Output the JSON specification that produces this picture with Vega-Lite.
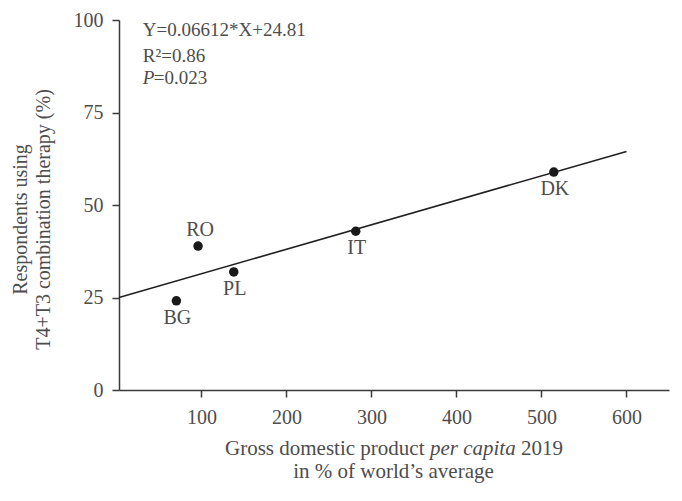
{
  "$schema": "https://vega.github.io/schema/vega-lite/v6.json",
  "width": 550,
  "height": 370,
  "autosize": {"type": "none"},
  "padding": {"left": 119, "top": 20, "right": 13, "bottom": 111},
  "background": "white",
  "config": {
    "view": {"stroke": null},
    "font": "Liberation Serif",
    "axis": {
      "labelFont": "Liberation Serif",
      "titleFont": "Liberation Serif",
      "labelFontSize": 20,
      "titleFontSize": 20,
      "labelColor": "#4d4d4d",
      "titleColor": "#4d4d4d",
      "domainColor": "#3a3a3a",
      "tickColor": "#3a3a3a",
      "domainWidth": 1.5,
      "tickWidth": 1.5,
      "grid": false,
      "titleFontWeight": "normal"
    }
  },
  "datasets": {
    "countries": [
      {"country": "BG", "gdp": 70.5, "t4t3": 24.1},
      {"country": "RO", "gdp": 96, "t4t3": 38.9},
      {"country": "PL", "gdp": 138, "t4t3": 31.9},
      {"country": "IT", "gdp": 281.5, "t4t3": 42.9},
      {"country": "DK", "gdp": 514.5, "t4t3": 58.9}
    ],
    "fit": [
      {"gdp": 3, "t4t3": 25.01},
      {"gdp": 600, "t4t3": 64.48}
    ],
    "notes": [
      {"label": "Y=0.06612*X+24.81", "gx": 31, "gy": 97.2, "style": "normal"},
      {"label": "R²=0.86", "gx": 31, "gy": 90.4, "style": "normal"},
      {"label": "P", "gx": 31, "gy": 84.2, "style": "italic"},
      {"label": "=0.023", "gx": 44, "gy": 84.2, "style": "normal"}
    ],
    "xtitle": [
      {"label": "Gross domestic product", "gx": 362.4, "gy": -16, "style": "normal", "al": "right"},
      {"label": "per capita", "gx": 368.8, "gy": -16, "style": "italic", "al": "left"},
      {"label": "2019", "gx": 475.9, "gy": -16, "style": "normal", "al": "left"},
      {"label": "in % of world’s average", "gx": 325.9, "gy": -22.2, "style": "normal", "al": "center"}
    ]
  },
  "layer": [
    {
      "data": {"name": "fit"},
      "mark": {"type": "line", "color": "#1f1f1f", "strokeWidth": 1.6},
      "encoding": {
        "x": {
          "field": "gdp",
          "type": "quantitative",
          "scale": {"domain": [3, 650], "nice": false, "zero": false},
          "axis": {
            "values": [100, 200, 300, 400, 500, 600],
            "tickSize": 7,
            "labelPadding": 10,
            "title": null,
            "encode": {"ticks": {"update": {"y2": {"value": -7}}}}
          }
        },
        "y": {
          "field": "t4t3",
          "type": "quantitative",
          "scale": {"domain": [0, 100], "nice": false},
          "axis": {
            "values": [0, 25, 50, 75, 100],
            "tickSize": 7,
            "labelPadding": 9,
            "title": ["Respondents using", "T4+T3 combination therapy (%)"],
            "titleLineHeight": 23,
            "titleAngle": -90,
            "titleBaseline": "middle",
            "titleAlign": "center",
            "titleX": -99,
            "titleY": 199,
            "encode": {"ticks": {"update": {"x2": {"value": 7}}}}
          }
        }
      }
    },
    {
      "data": {"name": "countries"},
      "mark": {"type": "circle", "size": 90, "color": "#1a1a1a", "opacity": 1},
      "encoding": {
        "x": {"field": "gdp", "type": "quantitative"},
        "y": {"field": "t4t3", "type": "quantitative"}
      }
    },
    {
      "data": {"name": "countries"},
      "transform": [{"filter": "datum.country === 'RO'"}],
      "mark": {"type": "text", "fontSize": 20, "color": "#4d4d4d", "dy": -16, "baseline": "middle", "dx": 2},
      "encoding": {
        "x": {"field": "gdp", "type": "quantitative"},
        "y": {"field": "t4t3", "type": "quantitative"},
        "text": {"field": "country"}
      }
    },
    {
      "data": {"name": "countries"},
      "transform": [{"filter": "datum.country !== 'RO'"}],
      "mark": {"type": "text", "fontSize": 20, "color": "#4d4d4d", "dy": 17, "baseline": "middle", "dx": 1},
      "encoding": {
        "x": {"field": "gdp", "type": "quantitative"},
        "y": {"field": "t4t3", "type": "quantitative"},
        "text": {"field": "country"}
      }
    },
    {
      "data": {"name": "notes"},
      "transform": [{"filter": "datum.style === 'normal'"}],
      "mark": {"type": "text", "fontSize": 19, "color": "#4d4d4d", "align": "left", "baseline": "middle"},
      "encoding": {
        "x": {"field": "gx", "type": "quantitative"},
        "y": {"field": "gy", "type": "quantitative"},
        "text": {"field": "label"}
      }
    },
    {
      "data": {"name": "notes"},
      "transform": [{"filter": "datum.style === 'italic'"}],
      "mark": {"type": "text", "fontSize": 19, "color": "#4d4d4d", "align": "left", "baseline": "middle", "fontStyle": "italic"},
      "encoding": {
        "x": {"field": "gx", "type": "quantitative"},
        "y": {"field": "gy", "type": "quantitative"},
        "text": {"field": "label"}
      }
    },
    {
      "data": {"name": "xtitle"},
      "transform": [{"filter": "datum.al === 'right'"}],
      "mark": {"type": "text", "fontSize": 21, "color": "#4d4d4d", "baseline": "middle", "align": "right"},
      "encoding": {
        "x": {"field": "gx", "type": "quantitative"},
        "y": {"field": "gy", "type": "quantitative"},
        "text": {"field": "label"}
      }
    },
    {
      "data": {"name": "xtitle"},
      "transform": [{"filter": "datum.al === 'left' && datum.style === 'italic'"}],
      "mark": {"type": "text", "fontSize": 21, "color": "#4d4d4d", "baseline": "middle", "align": "left", "fontStyle": "italic"},
      "encoding": {
        "x": {"field": "gx", "type": "quantitative"},
        "y": {"field": "gy", "type": "quantitative"},
        "text": {"field": "label"}
      }
    },
    {
      "data": {"name": "xtitle"},
      "transform": [{"filter": "datum.al === 'left' && datum.style === 'normal'"}],
      "mark": {"type": "text", "fontSize": 21, "color": "#4d4d4d", "baseline": "middle", "align": "left"},
      "encoding": {
        "x": {"field": "gx", "type": "quantitative"},
        "y": {"field": "gy", "type": "quantitative"},
        "text": {"field": "label"}
      }
    },
    {
      "data": {"name": "xtitle"},
      "transform": [{"filter": "datum.al === 'center'"}],
      "mark": {"type": "text", "fontSize": 21, "color": "#4d4d4d", "baseline": "middle", "align": "center"},
      "encoding": {
        "x": {"field": "gx", "type": "quantitative"},
        "y": {"field": "gy", "type": "quantitative"},
        "text": {"field": "label"}
      }
    }
  ]
}
